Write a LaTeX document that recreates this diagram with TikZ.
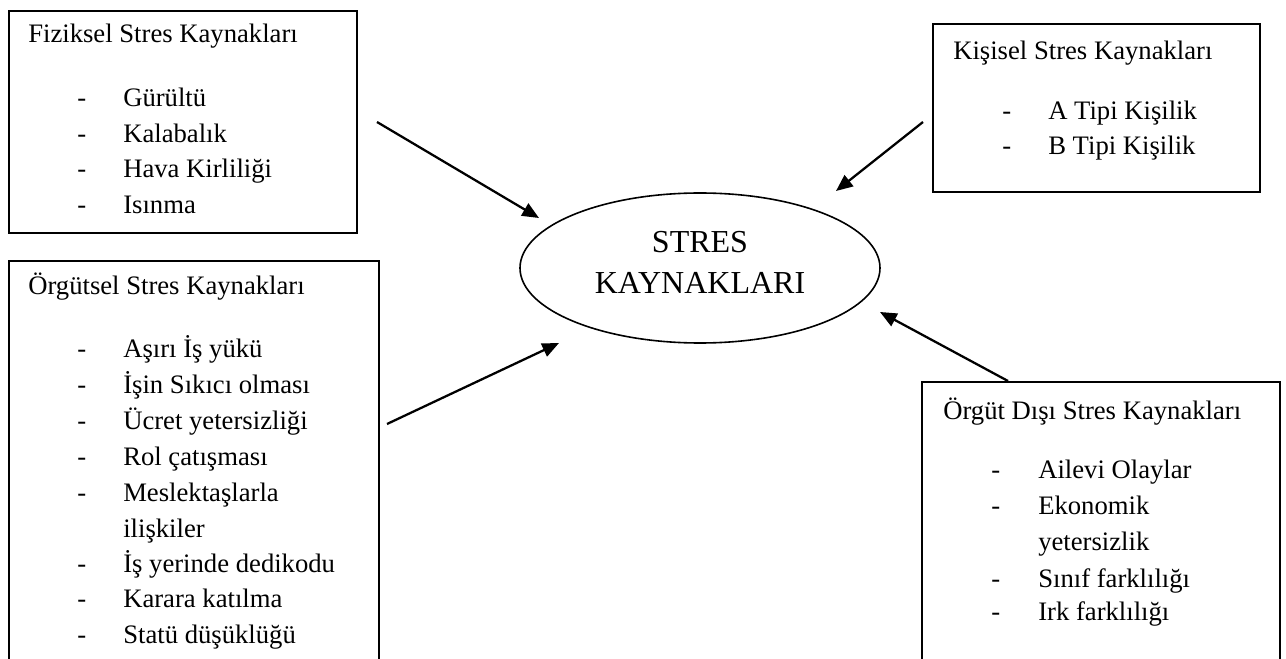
\documentclass[tikz,border=0pt]{standalone}
\usepackage{fontspec}
\setmainfont{Liberation Serif}
\usetikzlibrary{shapes.geometric,arrows.meta}
\begin{document}
\begin{tikzpicture}[x=0.75pt,y=-0.75pt,
  srcbox/.style={draw, line width=1.4pt, rectangle, inner sep=0pt, anchor=north west},
  hub/.style={draw, line width=1.2pt, ellipse, inner sep=0pt},
  hubtext/.style={align=center, inner sep=0pt, font=\fontsize{24}{30.75}\selectfont},
  entry/.style={anchor=base west, inner sep=0pt, font=\fontsize{20}{23}\selectfont},
  feed/.style={line width=1.7pt, -{Triangle[length=12.5pt,width=10.5pt]}},
]
\useasboundingbox (0,0) rectangle (1286,659);
\clip (0,0) rectangle (1286,659);

% source boxes
\node[srcbox, minimum width=261pt, minimum height=166.5pt] (fiz) at (8,10) {};
\node[srcbox, minimum width=277.5pt, minimum height=330pt] (org) at (8,260) {};
\node[srcbox, minimum width=245.25pt, minimum height=126pt] (kis) at (932,23) {};
\node[srcbox, minimum width=268.5pt, minimum height=239.25pt] (dis) at (921,381) {};

% central ellipse
\node[hub, minimum width=270pt, minimum height=112.5pt] (stres) at (700,268) {};
\node[hubtext] (stresyazi) at (700,262) {STRES\\KAYNAKLARI};

% Fiziksel
\node[entry] (f0) at (28,43) {Fiziksel Stres Kaynakları};
\foreach \t [count=\i] in {Gürültü, Kalabalık, Hava Kirliliği, Isınma}{
  \node[entry] (fd\i) at (77,{107+35.4*(\i-1)}) {-};
  \node[entry] (f\i) at (123,{107+35.4*(\i-1)}) {\t};
}

% Örgütsel
\node[entry] (o0) at (28,295) {Örgütsel Stres Kaynakları};
\foreach \t/\y/\d in {Aşırı İş yükü/358/1, İşin Sıkıcı olması/394/1, Ücret yetersizliği/430/1,
  Rol çatışması/465/1, Meslektaşlarla/501/1, ilişkiler/537/0, İş yerinde dedikodu/572/1,
  Karara katılma/607/1, Statü düşüklüğü/643/1}{
  \ifnum\d=1 \node[entry] (od\y) at (77,\y) {-};\fi
  \node[entry] (o\y) at (123,\y) {\t};
}

% Kişisel
\node[entry] (k0) at (953,60) {Kişisel Stres Kaynakları};
\foreach \t/\y in {A Tipi Kişilik/120, B Tipi Kişilik/155}{
  \node[entry] (kd\y) at (1002,\y) {-};
  \node[entry] (k\y) at (1048,\y) {\t};
}

% Örgüt Dışı
\node[entry] (d0) at (943,420) {Örgüt Dışı Stres Kaynakları};
\foreach \t/\y/\d in {Ailevi Olaylar/479/1, Ekonomik/514/1, yetersizlik/550/0,
  Sınıf farklılığı/587/1, Irk farklılığı/620/1}{
  \ifnum\d=1 \node[entry] (dd\y) at (991,\y) {-};\fi
  \node[entry] (d\y) at (1038,\y) {\t};
}

% arrow ends
\coordinate (a1s) at (377,122);
\coordinate (a1e) at (539,218);
\coordinate (a2s) at (923,122);
\coordinate (a2e) at (836,191);
\coordinate (a3s) at (387,424);
\coordinate (a3e) at (559,343);
\coordinate (a4s) at (1008,381);
\coordinate (a4e) at (880,312);

\draw[feed] (a1s) -- (a1e);
\draw[feed] (a2s) -- (a2e);
\draw[feed] (a3s) -- (a3e);
\draw[feed] (a4s) -- (a4e);
\end{tikzpicture}
\end{document}
